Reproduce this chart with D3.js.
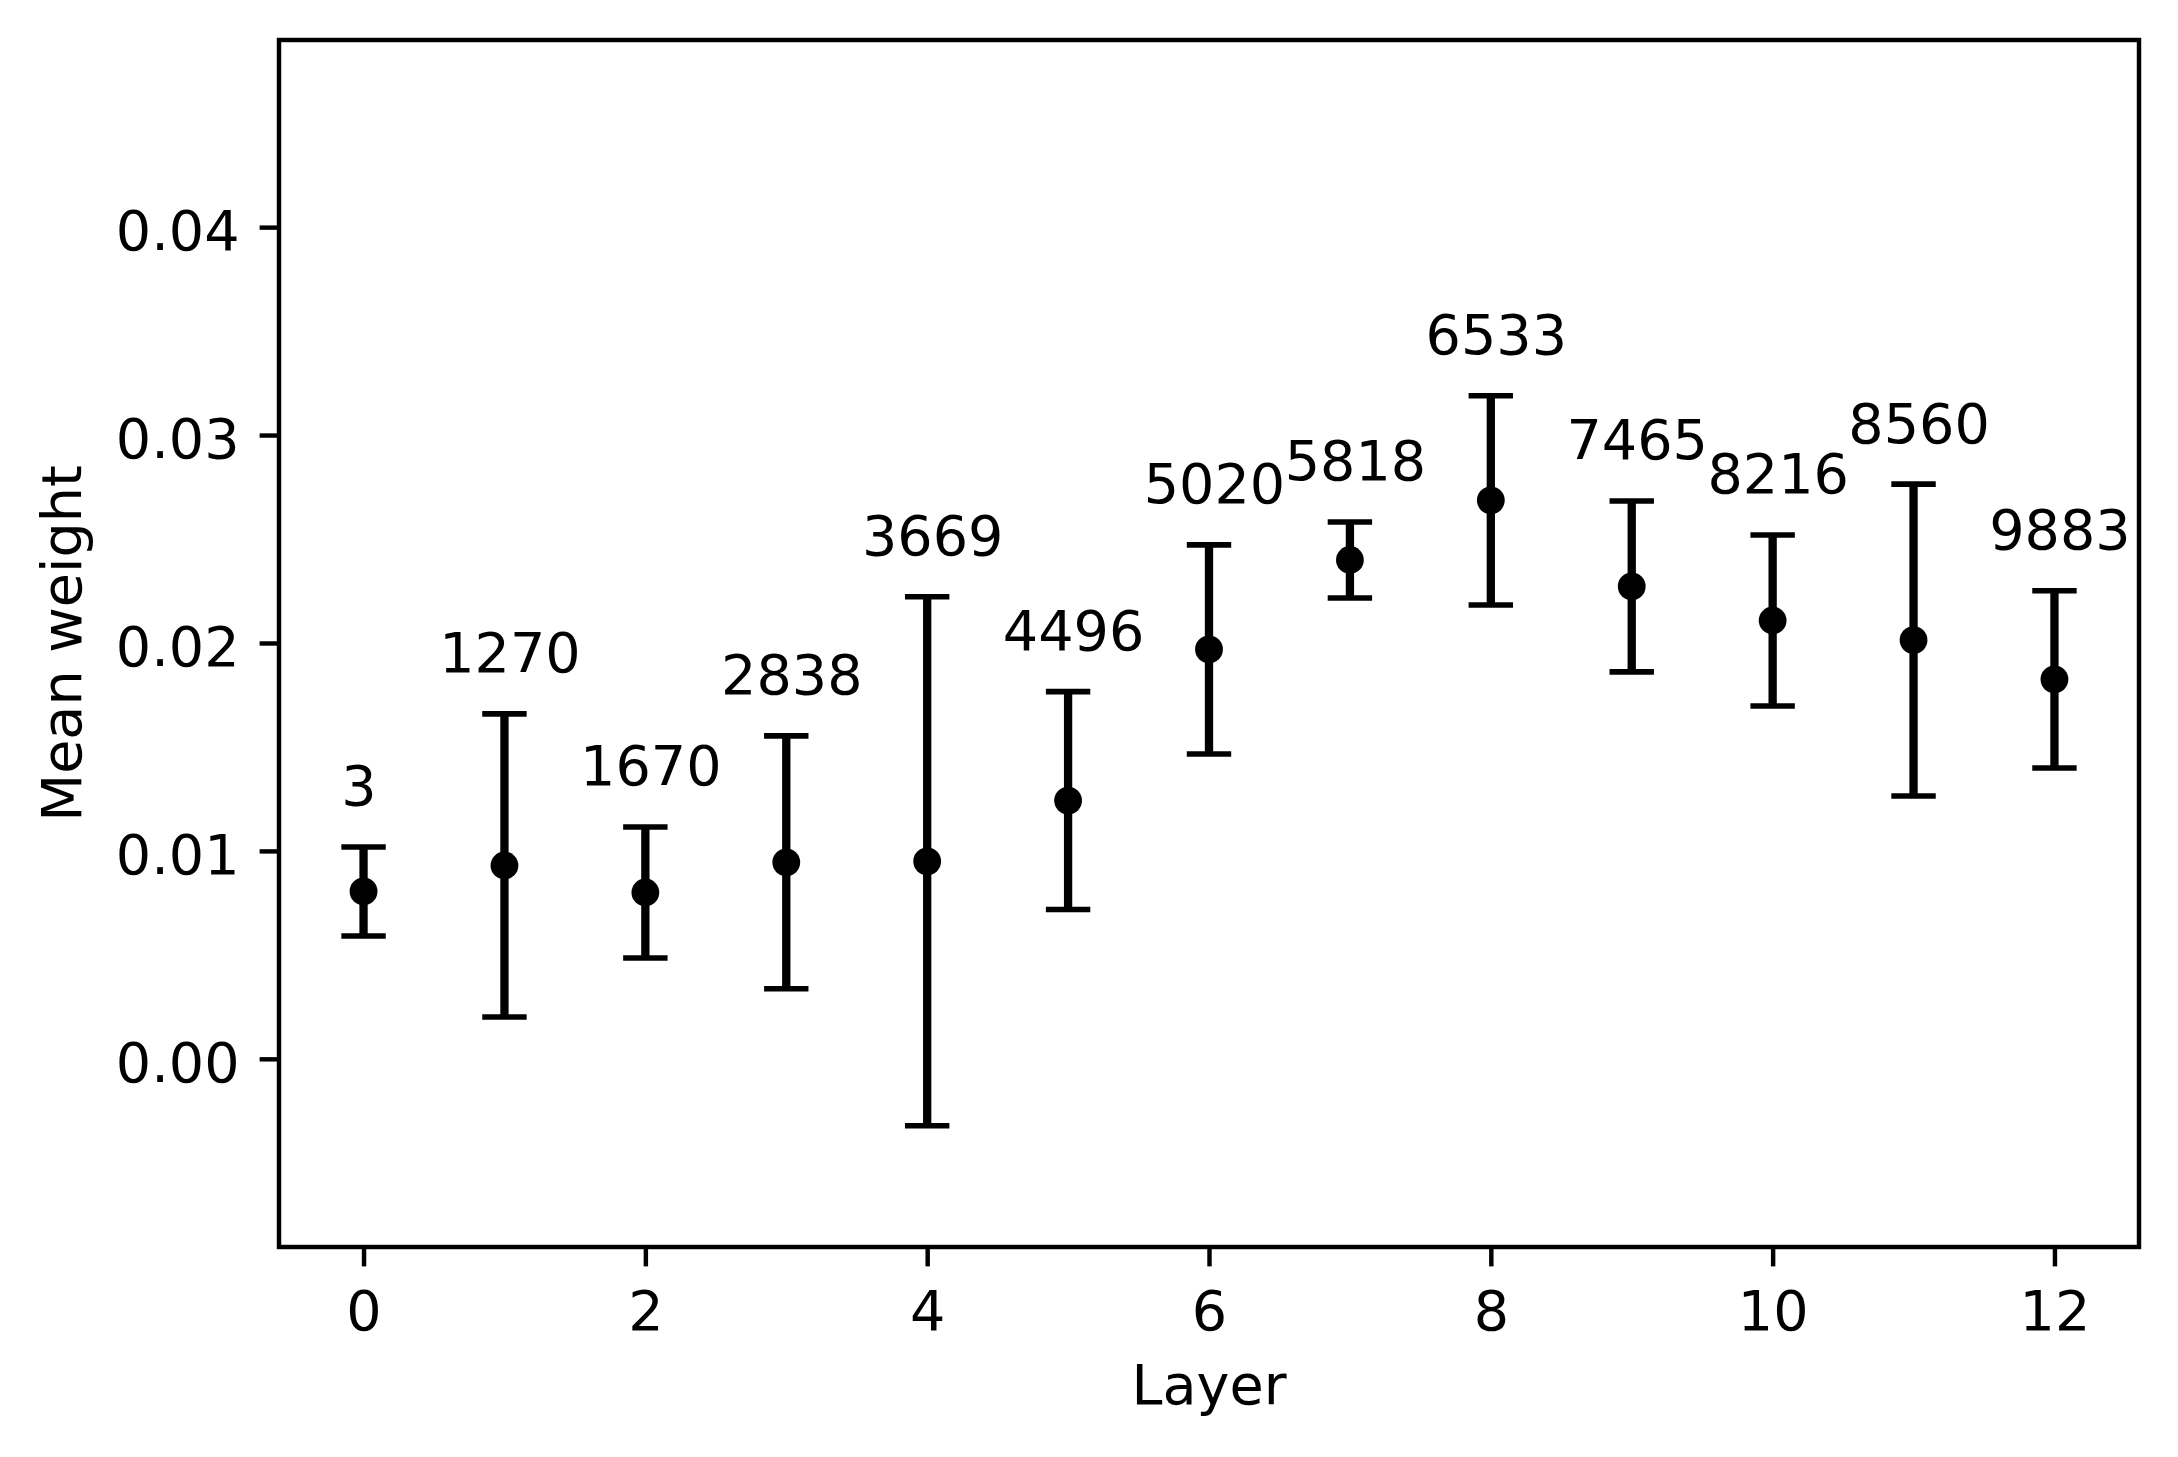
<!DOCTYPE html>
<html>
<head>
<meta charset="utf-8">
<script src="https://cdn.jsdelivr.net/npm/d3@7"></script>
<style>
html,body{margin:0;padding:0;background:#fff;}
svg{display:block;}
text{font-family:"DejaVu Sans",sans-serif;fill:#000;}
</style>
</head>
<body>
<svg id="chart" width="2178" height="1457"></svg>
<script>
// Data
const layers = [0,1,2,3,4,5,6,7,8,9,10,11,12];
const means  = [0.00805,0.0093,0.0080,0.00945,0.0095,0.01242,0.01969,0.02399,0.02686,0.02272,0.02108,0.02014,0.01825];
const stds   = [0.00214,0.00729,0.00315,0.00608,0.01272,0.00524,0.00503,0.00183,0.00503,0.00411,0.00411,0.0075,0.00426];
const counts = ["3","1270","1670","2838","3669","4496","5020","5818","6533","7465","8216","8560","9883"];
const xTicks = [0,2,4,6,8,10,12];
const yTicks = [0,0.01,0.02,0.03,0.04];

const W = 2178, H = 1457;
const m = {left:279, right:2139, top:40, bottom:1247};
const fs = 55.6, lw = 4.44, tickLen = 19.4;

const svg = d3.select("#chart");
const x = d3.scaleLinear().domain([-0.6,12.6]).range([m.left,m.right]);
const y = d3.scaleLinear().domain([-0.00905,0.0490]).range([m.bottom,m.top]);

// Axes
const gx = svg.append("g").attr("transform",`translate(0,${m.bottom})`)
  .call(d3.axisBottom(x).tickValues(xTicks).tickFormat(d3.format("d")).tickSize(tickLen).tickPadding(0));
gx.select(".domain").remove();
gx.selectAll(".tick line").attr("stroke","#000").attr("stroke-width",lw);
gx.selectAll(".tick text").attr("y",83).attr("dy",null).style("font-size",fs+"px").style("font-family","DejaVu Sans");

const gy = svg.append("g").attr("transform",`translate(${m.left},0)`)
  .call(d3.axisLeft(y).tickValues(yTicks).tickFormat(d3.format(".2f")).tickSize(tickLen).tickPadding(0));
gy.select(".domain").remove();
gy.selectAll(".tick line").attr("stroke","#000").attr("stroke-width",lw);
gy.selectAll(".tick text").attr("x",-tickLen-20).attr("dy","22.5px").style("font-size",fs+"px").style("font-family","DejaVu Sans");

// Error bars
const data = layers.map((l,i)=>({l, mean:means[i], sd:stds[i], n:counts[i]}));
const g = svg.append("g");
const capHalf = 22.2;
g.selectAll(".eb").data(data).join("line")
  .attr("x1",d=>x(d.l)).attr("x2",d=>x(d.l))
  .attr("y1",d=>y(d.mean-d.sd)).attr("y2",d=>y(d.mean+d.sd))
  .attr("stroke","#000").attr("stroke-width",8.3);
g.selectAll(".capTop").data(data).join("line")
  .attr("x1",d=>x(d.l)-capHalf).attr("x2",d=>x(d.l)+capHalf)
  .attr("y1",d=>y(d.mean+d.sd)).attr("y2",d=>y(d.mean+d.sd))
  .attr("stroke","#000").attr("stroke-width",5.6);
g.selectAll(".capBot").data(data).join("line")
  .attr("x1",d=>x(d.l)-capHalf).attr("x2",d=>x(d.l)+capHalf)
  .attr("y1",d=>y(d.mean-d.sd)).attr("y2",d=>y(d.mean-d.sd))
  .attr("stroke","#000").attr("stroke-width",5.6);
g.selectAll(".pt").data(data).join("circle")
  .attr("cx",d=>x(d.l)).attr("cy",d=>y(d.mean)).attr("r",13.9).attr("fill","#000");
g.selectAll(".lbl").data(data).join("text")
  .attr("x",d=>x(d.l)).attr("y",d=>y(d.mean+d.sd+0.002))
  .attr("dx",d=>d.n.length>1?5.5:-4.5)
  .attr("text-anchor","middle").style("font-size",fs+"px")
  .text(d=>d.n);

// Frame
svg.append("rect").attr("x",m.left).attr("y",m.top)
  .attr("width",m.right-m.left).attr("height",m.bottom-m.top)
  .attr("fill","none").attr("stroke","#000").attr("stroke-width",lw);

// Axis labels
svg.append("text").attr("x",(m.left+m.right)/2).attr("y",1404)
  .attr("text-anchor","middle").style("font-size",fs+"px").text("Layer");
svg.append("text").attr("transform",`translate(81,${(m.top+m.bottom)/2}) rotate(-90)`)
  .attr("text-anchor","middle").style("font-size",fs+"px").text("Mean weight");
</script>
</body>
</html>
